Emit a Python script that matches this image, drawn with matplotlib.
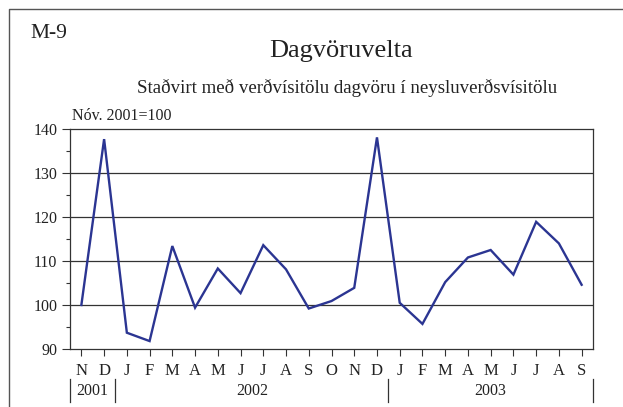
import matplotlib
matplotlib.use("Agg")
import matplotlib.pyplot as plt
from matplotlib.lines import Line2D
from matplotlib.ticker import MultipleLocator

# Gögn: mánuðir nóv. 2001 - sept. 2003
months = ["N", "D", "J", "F", "M", "A", "M", "J", "J", "A", "S", "O",
          "N", "D", "J", "F", "M", "A", "M", "J", "J", "A", "S"]
values = [100.0, 137.7, 93.7, 91.8, 113.4, 99.4, 108.3, 102.7, 113.6, 108.1,
          99.2, 100.9, 103.9, 138.1, 100.5, 95.7, 105.2, 110.8, 112.5, 106.9,
          118.9, 114.0, 104.6]
years = ["2001", "2002", "2003"]
year_centers = [0.5, 7.5, 18.0]
year_breaks = [-0.5, 1.5, 13.5, 22.5]
y_ticks = [90, 100, 110, 120, 130, 140]

plt.rcParams['font.family'] = ['Liberation Serif', 'DejaVu Serif']

fig = plt.figure(figsize=(6.23, 4.07), dpi=100)
ax = fig.add_axes([70 / 623, 58 / 407, 523 / 623, 220 / 407])

x = list(range(len(values)))
ax.plot(x, values, color='#2b3592', linewidth=1.7, solid_joinstyle='miter', zorder=3)

ax.set_xlim(-0.5, 22.5)
ax.set_ylim(90, 140)
ax.set_yticks(y_ticks)
ax.yaxis.set_minor_locator(MultipleLocator(5))
ax.tick_params(axis='y', which='major', length=6, width=0.8, direction='out',
               labelsize=11.5, pad=3, color='#333333', labelcolor='#222222')
ax.tick_params(axis='y', which='minor', length=3, width=0.8, direction='out',
               color='#333333')
ax.set_xticks(x)
ax.set_xticklabels([])
ax.tick_params(axis='x', length=5, width=0.8, direction='out', color='#333333')

for v in [100, 110, 120, 130]:
    ax.axhline(v, color='#333333', linewidth=0.9, zorder=1)

for side in ['left', 'bottom', 'right', 'top']:
    ax.spines[side].set_color('#333333')
    ax.spines[side].set_linewidth(0.9)

# Mánaðamerki og ár
tr = ax.get_xaxis_transform()
for i, m in enumerate(months):
    ax.text(i, -0.102, m, transform=tr, ha='center', va='center', fontsize=12,
            color='#222222')
for c, yr in zip(year_centers, years):
    ax.text(c, -0.193, yr, transform=tr, ha='center', va='center', fontsize=11.5,
            color='#222222')
for b in year_breaks:
    ax.add_line(Line2D([b, b], [-0.136, -0.241], transform=tr, color='#333333',
                       linewidth=0.9, clip_on=False))

# Textar
fig.text(30 / 623, 1 - 33 / 407, "M-9", ha='left', va='center', fontsize=15.5,
         color='#222222')
fig.text(341 / 623, 1 - 51 / 407, "Dagvöruvelta", ha='center', va='center', fontsize=19,
         color='#222222')
fig.text(347 / 623, 1 - 88 / 407, "Staðvirt með verðvísitölu dagvöru í neysluverðsvísitölu",
         ha='center', va='center', fontsize=13.6, color='#222222')
fig.text(72 / 623, 1 - 116 / 407, "Nóv. 2001=100", ha='left', va='center', fontsize=11.5,
         color='#222222')

# Rammi utan um myndina
fig.add_artist(Line2D([9 / 623, 9 / 623, 1.0], [0.0, 1 - 9 / 407, 1 - 9 / 407],
                      transform=fig.transFigure, color='#555555', linewidth=1.0))

fig.savefig("out.png", dpi=100)
plt.close(fig)
